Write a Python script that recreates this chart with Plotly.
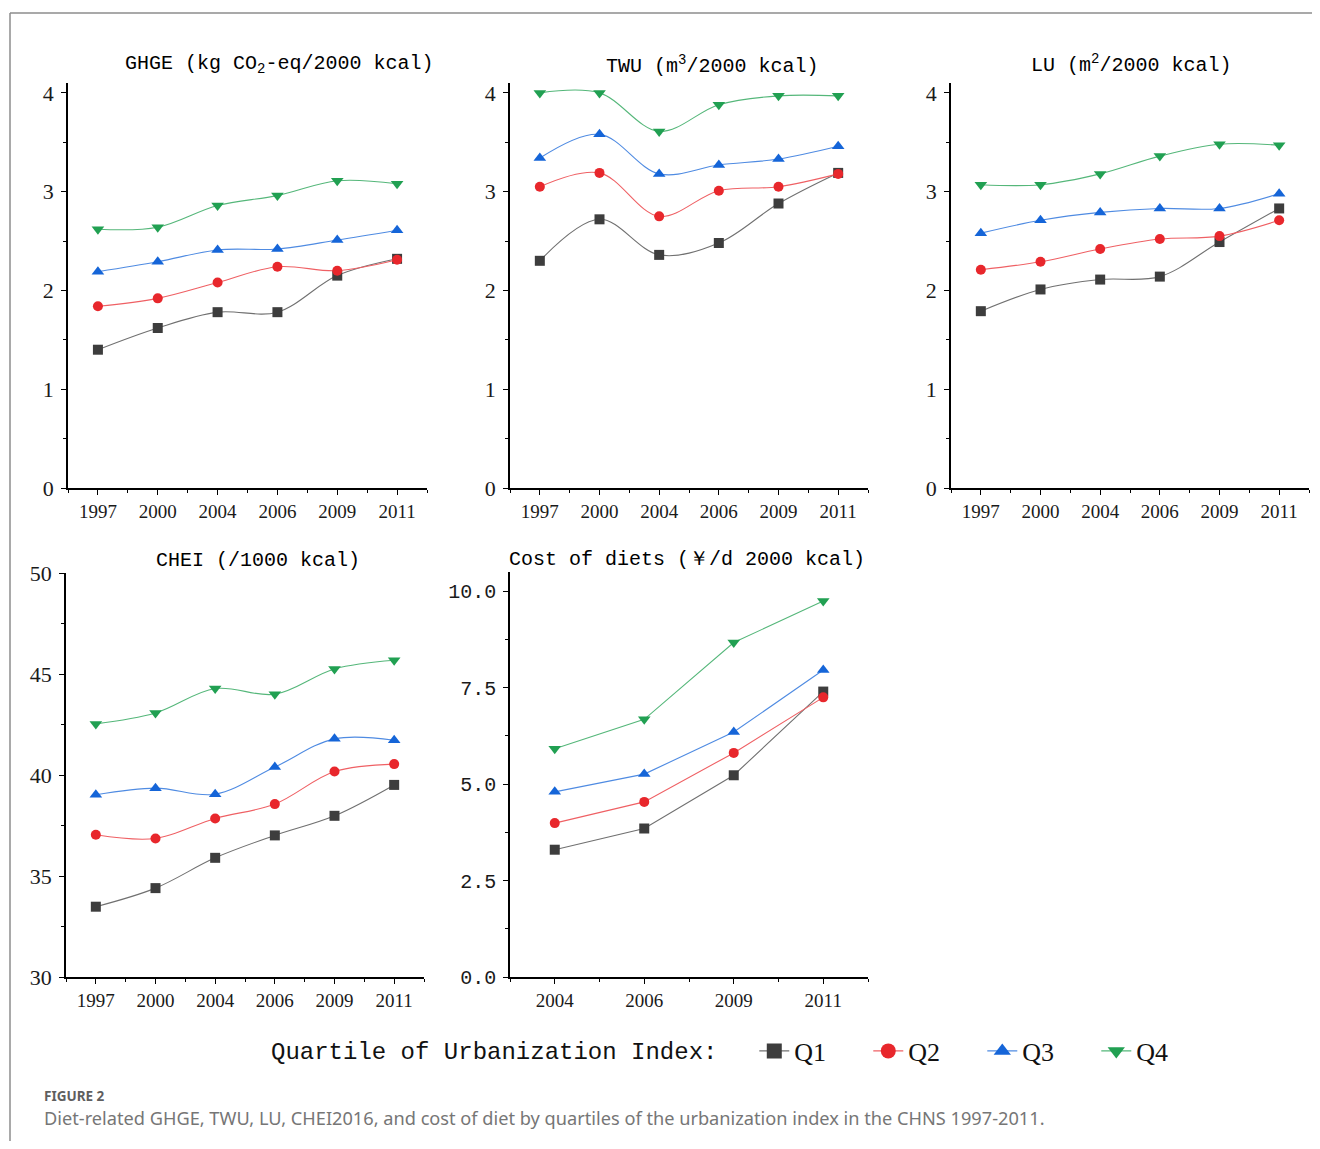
import plotly.graph_objects as go

# page has an 8px body margin; the figure is sized so the page fits the window
OFF = 8
W, H = 1320 - 2 * OFF, 1149 - 2 * OFF

years = ["1997", "2000", "2004", "2006", "2009", "2011"]
cost_years = ["2004", "2006", "2009", "2011"]
quartiles = ["Q1", "Q2", "Q3", "Q4"]

ghge_q1 = [1.40, 1.62, 1.78, 1.78, 2.15, 2.32]
ghge_q2 = [1.84, 1.92, 2.08, 2.24, 2.20, 2.31]
ghge_q3 = [2.19, 2.29, 2.41, 2.42, 2.51, 2.61]
ghge_q4 = [2.62, 2.64, 2.86, 2.96, 3.11, 3.08]

twu_q1 = [2.30, 2.72, 2.36, 2.48, 2.88, 3.19]
twu_q2 = [3.05, 3.19, 2.75, 3.01, 3.05, 3.18]
twu_q3 = [3.34, 3.58, 3.18, 3.27, 3.33, 3.46]
twu_q4 = [4.00, 4.00, 3.61, 3.88, 3.97, 3.97]

lu_q1 = [1.79, 2.01, 2.11, 2.14, 2.49, 2.83]
lu_q2 = [2.21, 2.29, 2.42, 2.52, 2.55, 2.71]
lu_q3 = [2.58, 2.71, 2.79, 2.83, 2.83, 2.98]
lu_q4 = [3.07, 3.07, 3.18, 3.36, 3.48, 3.47]

chei_q1 = [33.48, 34.40, 35.90, 37.01, 37.98, 39.51]
chei_q2 = [37.04, 36.86, 37.85, 38.56, 40.17, 40.54]
chei_q3 = [39.02, 39.35, 39.05, 40.39, 41.79, 41.72]
chei_q4 = [42.53, 43.07, 44.28, 44.00, 45.25, 45.68]

cost_q1 = [3.30, 3.85, 5.23, 7.40]
cost_q2 = [3.99, 4.54, 5.81, 7.25]
cost_q3 = [4.80, 5.26, 6.35, 7.96]
cost_q4 = [5.92, 6.68, 8.67, 9.75]

titles = [
    "GHGE (kg CO<sub>2</sub>-eq/2000 kcal)",
    "TWU (m<sup>3</sup>/2000 kcal)",
    "LU (m<sup>2</sup>/2000 kcal)",
    "CHEI (/1000 kcal)",
    "Cost of diets (￥/d 2000 kcal)",
]
legend_title = "Quartile of Urbanization Index:"

# styling
marker_colors = ["#3d3d3d", "#e8272c", "#1565d8", "#21a052"]
line_colors = ["#707070", "#ef6064", "#4f8be2", "#55b77a"]
symbols = ["square", "circle", "triangle-up", "triangle-down"]
marker_sizes = [10, 10, 11, 11]


def px(x):
    return (x - OFF) / W


def py(y):
    return 1 - (y - OFF) / H


# panel pixel boxes in reference window coordinates: (x0, x1, ytop, ybottom)
boxes = [
    (68, 427, 83, 488),
    (510, 868, 83, 488),
    (951, 1309, 83, 488),
    (66, 424, 573, 977),
    (510, 868, 572, 977),
]
title_pos = [(279, 65), (712, 65), (1131, 64), (258, 560), (687, 559)]

panels = [
    (years, [ghge_q1, ghge_q2, ghge_q3, ghge_q4], "spline", [0, 4.1], 1, 0.5),
    (years, [twu_q1, twu_q2, twu_q3, twu_q4], "spline", [0, 4.1], 1, 0.5),
    (years, [lu_q1, lu_q2, lu_q3, lu_q4], "spline", [0, 4.1], 1, 0.5),
    (years, [chei_q1, chei_q2, chei_q3, chei_q4], "spline", [30, 50], 5, 2.5),
    (cost_years, [cost_q1, cost_q2, cost_q3, cost_q4], "linear", [0, 10.5], 2.5, 1.25),
]

fig = go.Figure()
layout = {}
annotations = []

for i, (cats, series, shape, yr, dt, mdt) in enumerate(panels):
    n = i + 1
    xa = "x" if n == 1 else f"x{n}"
    ya = "y" if n == 1 else f"y{n}"
    xpos = list(range(len(cats)))
    for q in range(4):
        fig.add_trace(go.Scatter(
            x=xpos, y=series[q], mode="lines+markers",
            line=dict(color=line_colors[q], width=1.1, shape=shape, smoothing=1.0),
            marker=dict(color=marker_colors[q], symbol=symbols[q], size=marker_sizes[q], line=dict(width=0)),
            xaxis=xa, yaxis=ya, showlegend=False, name=quartiles[q],
        ))
    x0, x1, yt, yb = boxes[i]
    common = dict(showline=True, linecolor="black", linewidth=1.5, showgrid=False,
                  zeroline=False, ticks="outside", ticklen=5, tickwidth=1.3, tickcolor="black",
                  automargin=False)
    layout[f"xaxis{'' if n == 1 else n}"] = dict(
        domain=[px(x0), px(x1)], anchor=ya,
        range=[-0.5, len(cats) - 0.5],
        tickmode="array", tickvals=xpos, ticktext=cats,
        tickfont=dict(family="Liberation Serif", size=19, color="#1a1a1a"),
        minor=dict(dtick=0.5, tick0=-0.5, ticks="outside", ticklen=3, tickcolor="black", tickwidth=1.2),
        **common,
    )
    yfont = dict(family="Liberation Serif", size=22, color="#1a1a1a")
    yextra = {}
    if n == 5:
        yfont = dict(family="Liberation Mono", size=20, color="#1a1a1a")
        yextra = dict(tickformat=".1f")
    layout[f"yaxis{'' if n == 1 else n}"] = dict(
        domain=[py(yb), py(yt)], anchor=xa,
        range=yr, tick0=yr[0], dtick=dt,
        tickfont=yfont, ticklabelstandoff=3,
        minor=dict(dtick=mdt, ticks="outside", ticklen=3, tickcolor="black", tickwidth=1.2),
        **common, **yextra,
    )
    tx, ty = title_pos[i]
    annotations.append(dict(
        text=titles[i], x=px(tx), y=py(ty), xref="paper", yref="paper",
        xanchor="center", yanchor="middle", showarrow=False,
        font=dict(family="Liberation Mono", size=20, color="#000"),
    ))

# legend entries (no data, only legend symbols)
for q in range(4):
    fig.add_trace(go.Scatter(
        x=[None], y=[None], mode="lines+markers", name=quartiles[q],
        line=dict(color=line_colors[q], width=1.3),
        marker=dict(color=marker_colors[q], symbol=symbols[q], size=15),
        showlegend=True,
    ))

annotations.append(dict(
    text="<b>FIGURE 2</b>", x=px(42), y=py(1096), xref="paper", yref="paper",
    xanchor="left", yanchor="middle", showarrow=False,
    font=dict(family="Noto Sans", size=13.5, color="#5f5f5f"),
))
annotations.append(dict(
    text="Diet-related GHGE, TWU, LU, CHEI2016, and cost of diet by quartiles of the urbanization index in the CHNS 1997-2011.",
    x=px(42), y=py(1118), xref="paper", yref="paper",
    xanchor="left", yanchor="middle", showarrow=False,
    font=dict(family="Noto Sans", size=18.2, color="#767676"),
))

shapes = [
    dict(type="line", xref="paper", yref="paper", x0=px(10), x1=1.0, y0=py(13), y1=py(13),
         line=dict(color="#8c8c8c", width=1.5)),
    dict(type="line", xref="paper", yref="paper", x0=px(10), x1=px(10), y0=py(13), y1=0,
         line=dict(color="#8c8c8c", width=1.5)),
]

fig.update_layout(
    width=W, height=H, margin=dict(l=0, r=0, t=0, b=0, pad=0, autoexpand=False),
    paper_bgcolor="white", plot_bgcolor="white",
    annotations=annotations, shapes=shapes,
    legend=dict(
        orientation="h", x=px(269), xanchor="left", y=py(1051), yanchor="middle",
        title=dict(text=legend_title + "\u00a0\u00a0", side="left",
                   font=dict(family="Liberation Mono", size=24, color="#111")),
        font=dict(family="Liberation Serif", size=26, color="#111"),
        entrywidth=69, tracegroupgap=0, bgcolor="rgba(0,0,0,0)",
    ),
    **layout,
)

fig.write_html("out.html")
